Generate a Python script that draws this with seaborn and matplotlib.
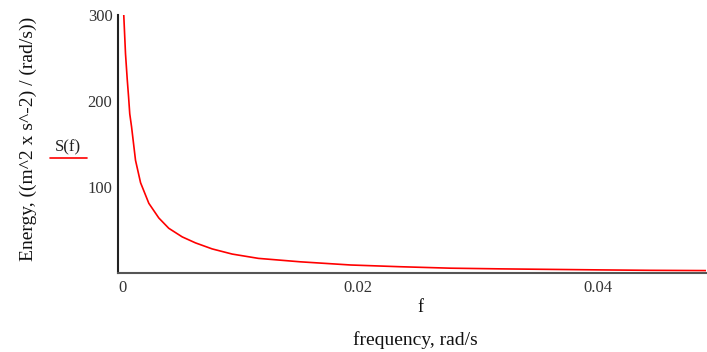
import matplotlib
matplotlib.use("Agg")
import matplotlib.pyplot as plt
import seaborn as sns
import pandas as pd
from matplotlib.lines import Line2D

# Data
freq = [0.00040, 0.00048, 0.000625, 0.00077, 0.00088, 0.00098, 0.00113, 0.00124,
        0.00146, 0.00188, 0.00257, 0.0034, 0.00423, 0.00535, 0.00646, 0.00785,
        0.00952, 0.0117, 0.0152, 0.0194, 0.0235, 0.0277, 0.0319, 0.0360,
        0.0402, 0.0444, 0.0491]
energy = [360, 300, 255, 225, 205, 185, 170, 157,
          131, 105, 81, 64, 52, 42, 35, 28,
          22, 17, 13, 9.3, 7.3, 5.6, 4.8, 4.2,
          3.6, 3.1, 2.8]
x_ticks = [0, 0.02, 0.04]
x_tick_labels = ["0", "0.02", "0.04"]
y_ticks = [100, 200, 300]
y_tick_labels = ["100", "200", "300"]

df = pd.DataFrame({"f": freq, "S": energy})

sns.set_style("white")
plt.rcParams["font.family"] = ["Liberation Serif", "DejaVu Serif"]

W, H = 707, 352
fig = plt.figure(figsize=(W / 100, H / 100), dpi=100)
ax_left, ax_right, ax_top, ax_bottom = 118, 706, 15, 273
ax = fig.add_axes([ax_left / W, 1 - ax_bottom / H, (ax_right - ax_left) / W, (ax_bottom - ax_top) / H])

sns.lineplot(data=df, x="f", y="S", ax=ax, color="#ff0000", linewidth=1.2, legend=False)

ax.set_xlim(0, 0.049)
ax.set_ylim(0, 300)
ax.set_xticks(x_ticks)
ax.set_xticklabels(x_tick_labels)
ax.set_yticks(y_ticks)
ax.set_yticklabels(y_tick_labels)
ax.set_xlabel("")
ax.set_ylabel("")

for s in ["top", "right"]:
    ax.spines[s].set_visible(False)
ax.spines["left"].set_color("#222222")
ax.spines["left"].set_linewidth(1.5)
ax.spines["bottom"].set_color("#555555")
ax.spines["bottom"].set_linewidth(1.5)
ax.tick_params(axis="both", direction="inout", length=8, width=1.2, color="#111111",
               labelsize=12, labelcolor="#333333")
ax.tick_params(axis="y", pad=0)
ax.tick_params(axis="x", pad=1)
for lbl in ax.get_xticklabels():
    if lbl.get_text() == "0":
        lbl.set_horizontalalignment("left")

fig.text(420 / W, 1 - 308 / H, "f", ha="center", va="center", fontsize=13, color="#111111")
fig.text(415 / W, 1 - 340 / H, "frequency, rad/s", ha="center", va="center", fontsize=14, color="#111111")
fig.text(28 / W, 1 - 139 / H, "Energy, ((m^2 x s^-2) / (rad/s))", rotation=90,
         ha="center", va="center", fontsize=14, color="#111111")

# legend-like label as in the reference
fig.text(68 / W, 1 - 147 / H, "S(f)", ha="center", va="center", fontsize=12, color="#222222")
fig.add_artist(Line2D([50 / W, 87 / W], [1 - 158 / H, 1 - 158 / H], color="#ff0000",
                      linewidth=1.2, transform=fig.transFigure))

fig.savefig("out.png", dpi=100)
